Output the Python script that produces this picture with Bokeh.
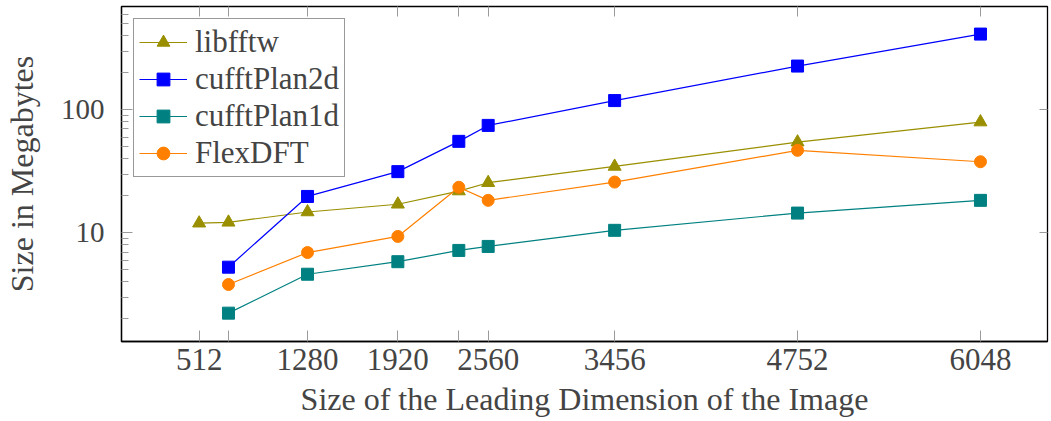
from bokeh.plotting import figure
from bokeh.models import (Range1d, FixedTicker, LogAxis, LinearAxis, Legend, LegendItem)
from bokeh.embed import file_html
from bokeh.resources import INLINE

# ---- data ----
x_libfftw = [512, 720, 1280, 1920, 2352, 2560, 3456, 4752, 6048]
y_libfftw = [12.0, 12.2, 14.8, 17.1, 21.9, 25.6, 34.7, 54.7, 79.6]

x_gpu = [720, 1280, 1920, 2352, 2560, 3456, 4752, 6048]
y_plan2d = [5.27, 19.8, 31.5, 55.5, 74.8, 119, 227, 413]
y_plan1d = [2.23, 4.62, 5.84, 7.21, 7.77, 10.5, 14.5, 18.4]
y_flex = [3.81, 6.93, 9.37, 23.5, 18.4, 25.9, 46.9, 37.9]

x_ticks = [512, 720, 1280, 1920, 2352, 2560, 3456, 4752, 6048]
x_tick_labels = {512: "512", 720: "", 1280: "1280", 1920: "1920", 2352: "",
                 2560: "2560", 3456: "3456", 4752: "4752", 6048: "6048"}
y_ticks = [10, 100]
y_tick_labels = {10: "10", 100: "100"}
y_minor = [m * 10 ** e for e in range(0, 3) for m in range(2, 10)]

x_title = "Size of the Leading Dimension of the Image"
y_title = "Size in Megabytes"

FONT = "Liberation Serif"
OLIVE = "#998f00"
BLUE = "#0000ff"
TEAL = "#008080"
ORANGE = "#ff8000"
TICKC = "#9a9a9a"

p = figure(width=1051, height=421, y_axis_type="log",
           x_range=Range1d(-38, 6523), y_range=Range1d(1.312, 692),
           output_backend="svg", toolbar_location=None,
           min_border_left=120, min_border_right=4, min_border_top=6,
           min_border_bottom=80)
p.grid.visible = False
p.outline_line_color = "black"
p.outline_line_width = 1.3

# bottom axis
xa = p.xaxis[0]
xa.ticker = FixedTicker(ticks=x_ticks, minor_ticks=[])
xa.major_label_overrides = x_tick_labels
xa.major_tick_in = 11
xa.major_tick_out = 0
xa.major_tick_line_color = TICKC
xa.minor_tick_line_color = None
xa.axis_line_color = "black"
xa.axis_line_width = 1.3
xa.major_label_text_font = FONT
xa.major_label_text_font_size = "31px"
xa.major_label_standoff = 7
xa.axis_label = x_title
xa.axis_label_text_font = FONT
xa.axis_label_text_font_size = "32px"
xa.axis_label_text_font_style = "normal"
xa.axis_label_standoff = 8

# left axis
ya = p.yaxis[0]
ya.ticker = FixedTicker(ticks=y_ticks, minor_ticks=y_minor)
ya.major_label_overrides = y_tick_labels
ya.major_tick_in = 11
ya.major_tick_out = 0
ya.minor_tick_in = 7
ya.minor_tick_out = 0
ya.major_tick_line_color = TICKC
ya.minor_tick_line_color = TICKC
ya.axis_line_color = "black"
ya.axis_line_width = 1.3
ya.major_label_text_font = FONT
ya.major_label_text_font_size = "29px"
ya.major_label_standoff = 17
ya.axis_label = y_title
ya.axis_label_text_font = FONT
ya.axis_label_text_font_size = "32px"
ya.axis_label_text_font_style = "normal"
ya.axis_label_standoff = 18

# right & top decorative axes (ticks only)
ra = LogAxis(ticker=FixedTicker(ticks=y_ticks, minor_ticks=[]),
             major_label_overrides={t: "" for t in y_ticks},
             major_tick_in=8, major_tick_out=0, major_tick_line_color=TICKC,
             major_label_text_font_size="1px", major_label_standoff=0,
             axis_line_color=None, minor_tick_line_color=None)
p.add_layout(ra, "right")
ta = LinearAxis(ticker=FixedTicker(ticks=x_ticks, minor_ticks=[]),
                major_label_overrides={t: "" for t in x_ticks},
                major_tick_in=10, major_tick_out=0, major_tick_line_color=TICKC,
                major_label_text_font_size="1px", major_label_standoff=0,
                axis_line_color=None, minor_tick_line_color=None)
p.add_layout(ta, "above")

# series
l1 = p.line(x_libfftw, y_libfftw, line_color=OLIVE, line_width=1.2)
m1 = p.scatter(x_libfftw, y_libfftw, marker="triangle", size=13, color=OLIVE)
l2 = p.line(x_gpu, y_plan2d, line_color=BLUE, line_width=1.2)
m2 = p.scatter(x_gpu, y_plan2d, marker="square", size=12, color=BLUE)
l3 = p.line(x_gpu, y_plan1d, line_color=TEAL, line_width=1.2)
m3 = p.scatter(x_gpu, y_plan1d, marker="square", size=12, color=TEAL)
l4 = p.line(x_gpu, y_flex, line_color=ORANGE, line_width=1.2)
m4 = p.scatter(x_gpu, y_flex, marker="circle", size=12, color=ORANGE)

legend = Legend(items=[
    LegendItem(label="libfftw", renderers=[l1, m1]),
    LegendItem(label="cufftPlan2d", renderers=[l2, m2]),
    LegendItem(label="cufftPlan1d", renderers=[l3, m3]),
    LegendItem(label="FlexDFT", renderers=[l4, m4]),
], location="top_left")
legend.margin = 12
legend.padding = 5
legend.spacing = 1
legend.glyph_width = 48
legend.glyph_height = 32
legend.label_height = 32
legend.label_standoff = 8
legend.label_text_font = FONT
legend.label_text_font_size = "31px"
legend.border_line_color = "#333333"
legend.border_line_width = 1.2
legend.background_fill_alpha = 1.0
p.add_layout(legend, "center")

open("out.html", "w").write(file_html(p, INLINE))
